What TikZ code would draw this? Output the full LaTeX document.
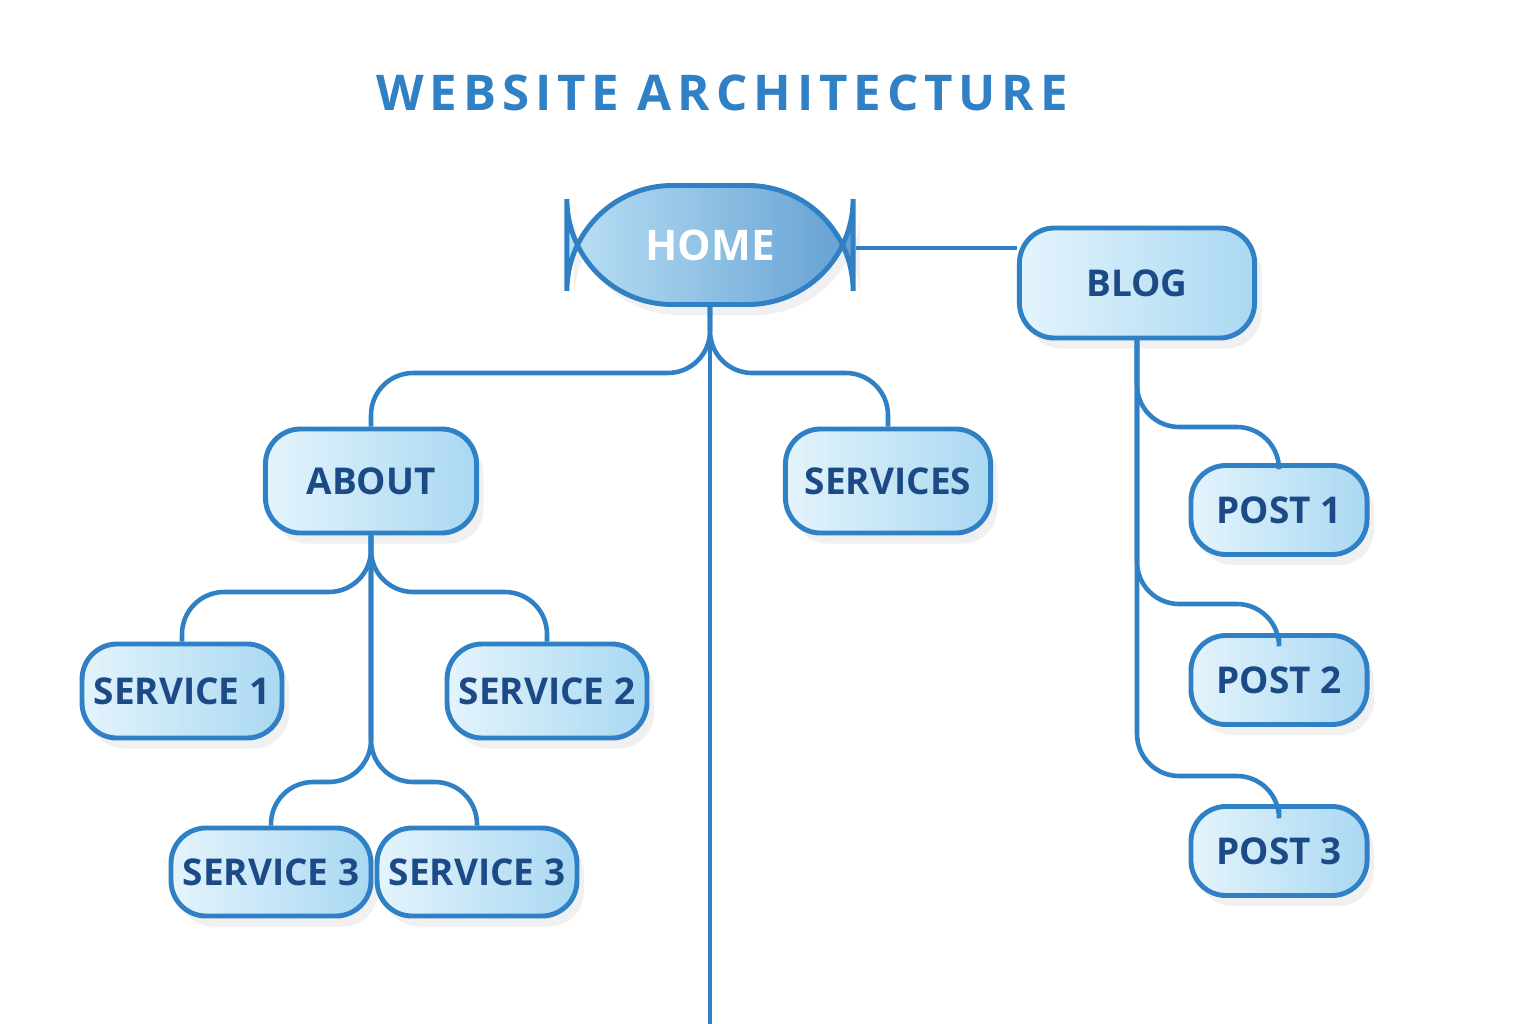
\documentclass[tikz,border=0pt]{standalone}
\usepackage{fontspec}
\setmainfont{Open Sans}
\newfontfamily\titlefont[LetterSpace=12]{Open Sans}
\usetikzlibrary{shadows}
\definecolor{linkblue}{HTML}{2F80C4}
\definecolor{textblue}{HTML}{1B4A86}
\definecolor{boxlight}{HTML}{E4F4FC}
\definecolor{boxdark}{HTML}{A9D8F2}
\begin{document}
\begin{tikzpicture}
  [x=0.01cm, y=-0.01cm,
    page/.style={%
      rectangle, rounded corners=10pt, draw=linkblue, line width=1.4pt,
      left color=boxlight, right color=boxdark,
      drop shadow={opacity=0.12, shadow xshift=2pt, shadow yshift=-3pt},
      text=textblue, font=\fontsize{10.5}{12}\selectfont\bfseries
    },
    home/.style={%
      page, rounded corners=30pt, left color=boxdark!80, right color=linkblue!75,
      text=white, font=\fontsize{12}{14}\selectfont\bfseries
    },
    link/.style={%
      draw=linkblue, line width=1.3pt, rounded corners=12pt
    },
  ]
  \useasboundingbox (0,0) rectangle (1536,1024);

  \node[font=\titlefont\fontsize{14}{16}\selectfont\bfseries, text=linkblue] (title) at (722,93) {WEBSITE ARCHITECTURE};

  \node[home, minimum width=286\pgflinewidth, minimum width=2.86cm, minimum height=1.19cm] (home) at (710,245) {HOME};
  \node[page, minimum width=2.35cm, minimum height=1.10cm] (blog) at (1137,283) {BLOG};
  \node[page, minimum width=2.11cm, minimum height=1.04cm] (about) at (371,481) {ABOUT};
  \node[page, minimum width=2.05cm, minimum height=1.04cm] (services) at (888,481) {SERVICES};
  \node[page, minimum width=1.93cm, minimum height=0.94cm] (s1) at (182,691) {SERVICE 1};
  \node[page, minimum width=1.86cm, minimum height=0.94cm] (s2) at (547,691) {SERVICE 2};
  \node[page, minimum width=1.75cm, minimum height=0.88cm] (s3a) at (271,872) {SERVICE 3};
  \node[page, minimum width=1.76cm, minimum height=0.88cm] (s3b) at (477,872) {SERVICE 3};
  \node[page, minimum width=1.76cm, minimum height=0.89cm] (p1) at (1279,510) {POST 1};
  \node[page, minimum width=1.76cm, minimum height=0.89cm] (p2) at (1279,680) {POST 2};
  \node[page, minimum width=1.76cm, minimum height=0.89cm] (p3) at (1279,851) {POST 3};

  \coordinate (trunk) at (710,1024);

  % home branches
  \draw[link] (home.south) |- (about.north |- 0,373) -- (about.north);
  \draw[link] (home.south) |- (services.north |- 0,373) -- (services.north);
  \draw[link, rounded corners=0pt] (home.south) -- (trunk);
  \draw[link, rounded corners=0pt] (home.east |- 0,248) -- (blog.west |- 0,248);

  % about branches
  \draw[link] (about.south) |- (s1.north |- 0,592) -- (s1.north);
  \draw[link] (about.south) |- (s2.north |- 0,592) -- (s2.north);
  \draw[link] (about.south) |- (s3a.north |- 0,782) -- (s3a.north);
  \draw[link] (about.south) |- (s3b.north |- 0,782) -- (s3b.north);

  % blog branches
  \draw[link] (blog.south) |- (p1.north |- 0,427) -- (p1.north);
  \draw[link] (blog.south) |- (p2.north |- 0,604) -- (p2.north);
  \draw[link] (blog.south) |- (p3.north |- 0,776) -- (p3.north);
\end{tikzpicture}
\end{document}
